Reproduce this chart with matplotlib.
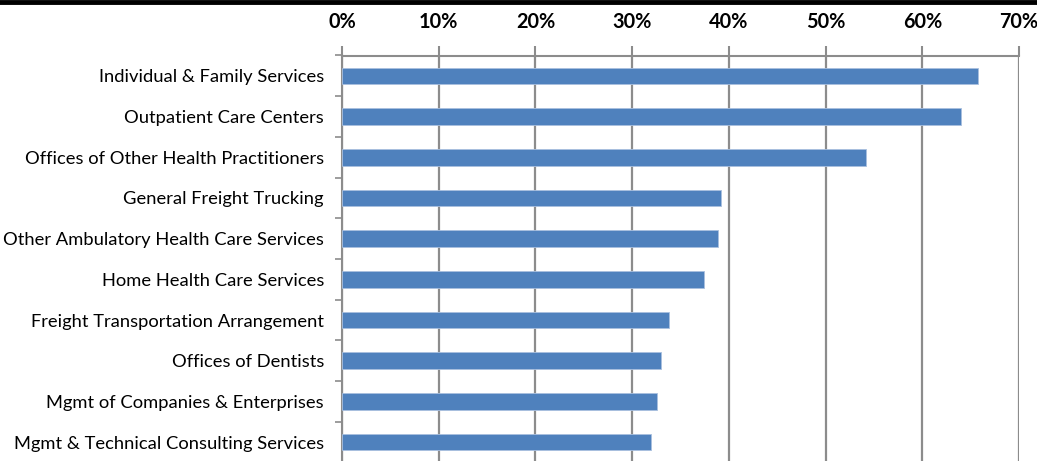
import numpy as np
import matplotlib.pyplot as plt
from matplotlib.ticker import FixedLocator, PercentFormatter

# Share of firms by industry, top to bottom
categories = [
    "Individual & Family Services",
    "Outpatient Care Centers",
    "Offices of Other Health Practitioners",
    "General Freight Trucking",
    "Other Ambulatory Health Care Services",
    "Home Health Care Services",
    "Freight Transportation Arrangement",
    "Offices of Dentists",
    "Mgmt of Companies & Enterprises",
    "Mgmt & Technical Consulting Services",
]
values = [65.8, 64.0, 54.2, 39.2, 38.9, 37.4, 33.8, 33.0, 32.6, 32.0]
xticks = [0, 10, 20, 30, 40, 50, 60, 70]

plt.rcParams['font.family'] = ['Lato', 'DejaVu Sans']
grid_c = "#8c8c8c"
bar_c = "#4f81bd"

fig = plt.figure(figsize=(10.37, 4.61), dpi=100)
W, H = 1037, 461
ax = fig.add_axes([342 / W, -1.5 / H, (1019 - 342) / W, (462.5 - 55.5) / H])

y = np.arange(len(categories))
ax.barh(y, values, height=0.41, color=bar_c, edgecolor="#a9c0df",
        linewidth=0.6, zorder=3)

ax.set_xlim(0, 70)
ax.set_ylim(len(categories) - 0.5, -0.5)
ax.set_yticks(y)
ax.set_yticklabels(categories, fontsize=13.2)
ax.yaxis.set_minor_locator(FixedLocator(np.arange(-0.5, len(categories), 1)))
ax.tick_params(axis="y", which="major", length=0, pad=13)
ax.tick_params(axis="y", which="minor", length=5, width=1.2, color=grid_c,
               direction="out")

ax.xaxis.tick_top()
ax.set_xticks(xticks)
ax.xaxis.set_major_formatter(PercentFormatter(decimals=0))
ax.tick_params(axis="x", length=7, width=1.5, color=grid_c, pad=10,
               labelsize=14.3)
for lbl in ax.get_xticklabels():
    lbl.set_fontweight("bold")

ax.grid(axis="x", color=grid_c, linewidth=1.6, zorder=0)
for s in ["bottom", "right"]:
    ax.spines[s].set_visible(False)
for s in ["top", "left"]:
    ax.spines[s].set_color(grid_c)
    ax.spines[s].set_linewidth(1.5)

# black band along the top edge
fig.add_artist(plt.Line2D([0, 1], [1 - 2 / H, 1 - 2 / H], color="black",
                          linewidth=3.5, transform=fig.transFigure))

fig.savefig("out.png", dpi=100)
